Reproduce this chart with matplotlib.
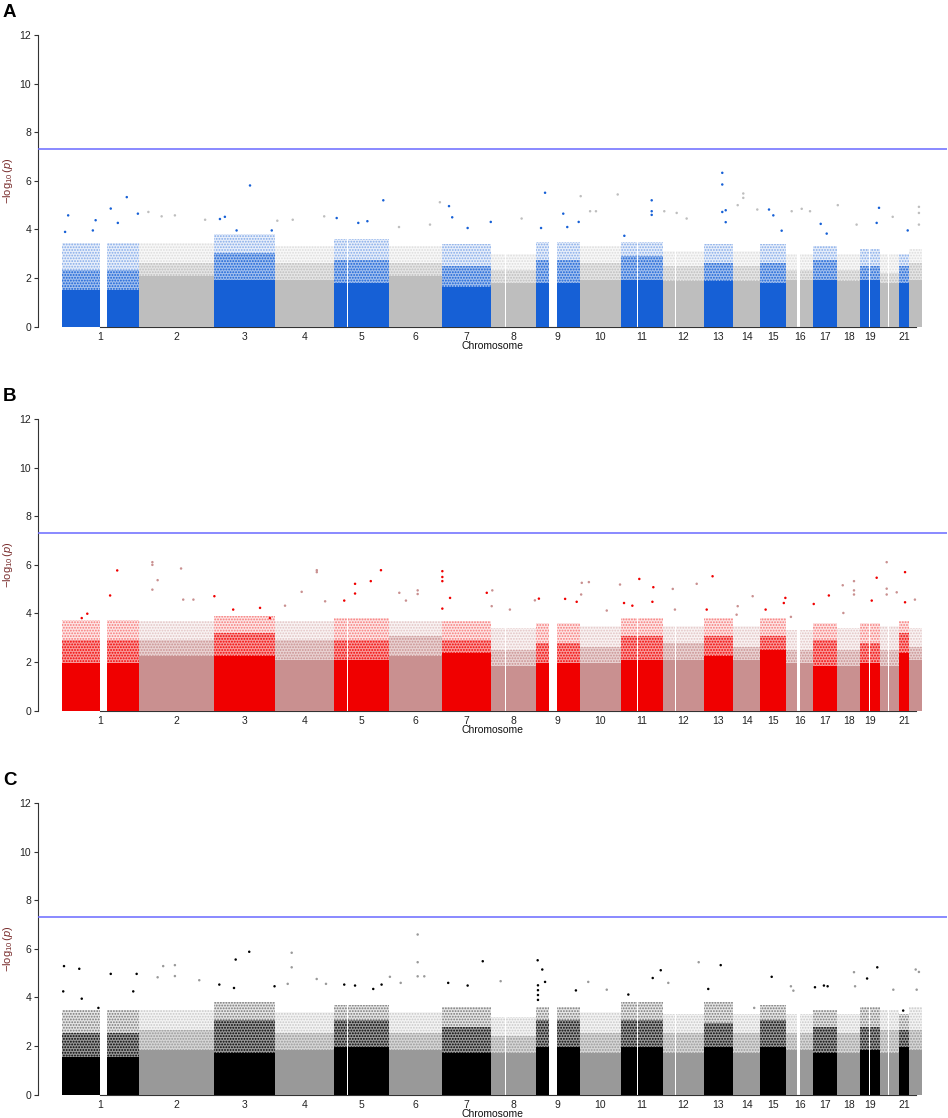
import matplotlib
matplotlib.use("Agg")
import matplotlib.pyplot as plt
from matplotlib.colors import to_rgba
import numpy as np

plt.rcParams['font.family'] = 'sans-serif'
plt.rcParams['font.sans-serif'] = ['Liberation Sans', 'DejaVu Sans']
plt.rcParams['mathtext.fontset'] = 'custom'
plt.rcParams['mathtext.rm'] = 'Liberation Sans'
plt.rcParams['mathtext.it'] = 'Liberation Sans:italic'
plt.rcParams['mathtext.sf'] = 'Liberation Sans'
plt.rcParams['hatch.linewidth'] = 0.9

# ---------------- data ----------------
chrom_names = [str(i) for i in range(1, 23)]
chrom_span_mb = [249, 243, 198, 191, 180, 171, 159, 146, 141, 135, 134, 133,
                 96, 88, 82, 90, 78, 74, 65, 61, 33, 40]
chrom_labels_shown = [str(i) for i in range(1, 20)] + ['21']

# regions without markers (chromosome, start Mb, end Mb)
gap_chrom = [1, 9, 16, 19, 2, 3, 4, 5, 6, 7, 8, 10, 11, 12, 20]
gap_start = [123, 42, 37, 27, 91, 90.5, 51.5, 44.5, 63.5, 60, 46, 40.5, 51.3, 41.5, 25.5]
gap_end = [145, 69, 45, 32, 93, 92.5, 52.5, 45.5, 64.5, 61.2, 47, 41.5, 53, 42.3, 26.5]

threshold = 7.3

# panel A: per-chromosome density envelopes (-log10 p)
A_solid = [1.52, 2.07, 1.93, 1.93, 1.79, 2.07, 1.65, 1.79, 1.80, 1.93, 1.93, 1.86,
           1.86, 1.86, 1.79, 1.93, 1.93, 1.86, 1.93, 1.79, 1.79, 1.93]
A_dense = [2.34, 2.62, 3.03, 2.62, 2.75, 2.62, 2.48, 2.34, 2.75, 2.62, 2.89, 2.48,
           2.62, 2.48, 2.62, 2.34, 2.75, 2.34, 2.48, 2.20, 2.48, 2.62]
A_sparse = [3.44, 3.44, 3.80, 3.30, 3.60, 3.30, 3.40, 3.00, 3.50, 3.30, 3.50, 3.10,
            3.40, 3.10, 3.40, 3.00, 3.30, 3.00, 3.20, 3.00, 3.00, 3.20]
A_pt_chr = [1, 1, 1, 1, 1, 1, 1, 1, 2, 2, 2, 2, 3, 3, 3, 3, 3, 4, 4, 4, 5, 5, 5, 5,
            6, 6, 6, 7, 7, 7, 7, 8, 9, 9, 9, 9, 9, 10, 10, 10, 10, 11, 11, 11, 11,
            12, 12, 12, 13, 13, 13, 13, 13, 14, 14, 14, 14, 15, 15, 15, 16, 16, 16,
            17, 17, 18, 18, 19, 19, 20, 21, 22, 22, 22]
A_pt_pos = [20, 10, 109, 100, 158, 210, 181, 246, 31, 117, 74, 215, 36, 20, 117.5, 74, 188,
            8, 58, 160, 9.5, 160.6, 109, 79.5, 31.5, 164, 132, 22.6, 33, 83, 158, 99,
            29, 16, 88, 101, 138, 3.5, 123.5, 34, 53, 98.7, 98.7, 98.7, 10,
            5.5, 45.7, 78, 60.5, 60.5, 71.6, 60.5, 71.6, 32.6, 32.6, 14.5, 78, 28, 42, 69,
            52, 79, 19.5, 23.6, 43, 1, 62, 60.6, 53, 40, 27.6, 31, 31, 31]
A_pt_val = [4.58, 3.90, 4.38, 3.96, 4.86, 5.33, 4.27, 4.65, 4.72, 4.58, 4.54, 4.40,
            4.52, 4.43, 5.81, 3.96, 3.96, 4.36, 4.40, 4.54, 4.47, 5.20, 4.34, 4.27,
            4.10, 5.12, 4.20, 4.96, 4.50, 4.06, 4.31, 4.45, 5.51, 4.06, 4.65, 4.10, 4.31,
            5.37, 5.44, 4.75, 4.75, 5.20, 4.75, 4.60, 3.74, 4.75, 4.68, 4.45,
            6.33, 5.85, 4.79, 4.72, 4.30, 5.48, 5.30, 5.00, 4.82, 4.82, 4.58, 3.95,
            4.85, 4.75, 4.75, 4.23, 3.83, 5.00, 4.20, 4.89, 4.27, 4.52, 3.96, 4.93, 4.68, 4.20]

# panel B
B_solid = [1.96, 2.23, 2.23, 2.09, 2.09, 2.23, 2.37, 1.82, 1.96, 1.96, 2.09, 2.09,
           2.23, 2.09, 2.50, 1.96, 1.82, 1.82, 1.96, 1.82, 2.37, 2.09]
B_dense = [2.92, 2.92, 3.20, 2.92, 2.92, 3.06, 2.92, 2.51, 2.78, 2.64, 3.06, 2.78,
           3.06, 2.64, 3.06, 2.51, 2.92, 2.51, 2.78, 2.51, 3.20, 2.64]
B_sparse = [3.74, 3.70, 3.90, 3.70, 3.80, 3.70, 3.70, 3.40, 3.60, 3.50, 3.80, 3.50,
            3.80, 3.50, 3.80, 3.30, 3.60, 3.40, 3.60, 3.50, 3.70, 3.40]
B_pt_chr = [1, 1, 1, 1, 2, 2, 2, 2, 2, 2, 2, 3, 3, 3, 3, 4, 4, 4, 4, 4, 5, 5, 5, 5, 5,
            6, 6, 6, 6, 7, 7, 7, 7, 7, 7, 8, 8, 8, 8, 9, 9, 9, 10, 10, 10, 10, 10,
            11, 11, 11, 11, 11, 12, 12, 12, 13, 13, 14, 14, 14, 15, 15, 15, 16, 17, 17,
            18, 18, 18, 18, 18, 19, 19, 20, 20, 20, 20, 21, 21, 22]
B_pt_pos = [179, 156, 64, 82, 44, 44, 137, 61, 44, 144, 177, 2, 63, 150, 182,
            87, 136, 136, 163, 33, 153, 120, 69, 69, 34, 92, 92, 32.5, 54,
            1, 1, 1, 26, 1, 145, 4, 2, 61, 142, 9, 94, 131.5, 7, 30, 5, 88, 131,
            58.5, 104, 101, 36, 9, 33, 110.6, 40, 29, 10, 11, 63, 14.5, 81, 76, 17, 17,
            1, 50, 17, 53.5, 53.5, 53.5, 19, 53, 37, 20.5, 20.5, 20.5, 53, 19, 19, 18]
B_pt_val = [5.77, 4.74, 3.81, 3.99, 6.11, 6.00, 5.85, 5.37, 4.98, 4.57, 4.57,
            4.71, 4.16, 4.23, 3.81, 4.89, 5.78, 5.70, 4.50, 4.32, 5.78, 5.33, 5.22, 4.82,
            4.53, 4.95, 4.80, 4.85, 4.53, 5.74, 5.50, 5.33, 4.64, 4.20, 4.85, 4.95, 4.30,
            4.16, 4.54, 4.61, 4.60, 4.48, 5.26, 5.29, 4.78, 4.12, 5.19, 5.42, 5.08, 4.48,
            4.32, 4.43, 5.01, 5.22, 4.16, 5.53, 4.16, 3.95, 4.71, 4.30, 4.64, 4.43, 4.16,
            3.86, 4.39, 4.74, 5.16, 5.33, 4.95, 4.78, 4.02, 5.47, 4.53, 6.11, 5.02, 4.78,
            4.87, 5.70, 4.46, 4.57]

# panel C
C_solid = [1.57, 1.84, 1.71, 1.84, 1.98, 1.84, 1.71, 1.71, 1.98, 1.71, 1.98, 1.71,
           1.98, 1.71, 1.98, 1.84, 1.71, 1.71, 1.84, 1.71, 1.98, 1.84]
C_dense = [2.53, 2.67, 3.08, 2.53, 3.08, 2.53, 2.80, 2.40, 3.08, 2.53, 3.08, 2.53,
           2.94, 2.53, 3.08, 2.53, 2.80, 2.53, 2.80, 2.67, 2.67, 2.67]
C_sparse = [3.50, 3.50, 3.80, 3.40, 3.70, 3.40, 3.60, 3.20, 3.60, 3.40, 3.80, 3.30,
            3.80, 3.30, 3.70, 3.30, 3.50, 3.30, 3.60, 3.50, 3.30, 3.60]
C_pt_chr = [1, 1, 1, 1, 1, 1, 1, 1, 2, 2, 2, 2, 2, 3, 3, 3, 3, 3, 4, 4, 4, 4, 4,
            5, 5, 5, 5, 6, 6, 6, 6, 6, 6, 7, 7, 7, 8, 9, 9, 9, 9, 9, 9, 9, 9,
            10, 10, 11, 11, 11, 12, 12, 13, 13, 14, 15, 16, 16, 17, 17, 17, 18, 18,
            19, 19, 20, 21, 22, 22, 22]
C_pt_pos = [6.5, 56, 4, 64, 118, 158, 242, 231, 79, 117, 117, 61, 196,
            71, 115, 18, 65.6, 197, 54.6, 54.6, 41.7, 135.7, 165.8,
            34, 69, 155, 128, 92, 92, 92, 2, 37, 113.5, 20, 83, 132, 31,
            5, 20, 29, 129, 6, 6, 6, 6, 28, 88, 102, 128, 23, 18.5, 117,
            55.4, 15, 68, 36.7, 17, 25, 5, 34, 46, 53.5, 57, 22, 55, 42, 13, 20.5, 31, 23.7]
C_pt_val = [5.29, 5.18, 4.25, 3.95, 3.57, 4.97, 4.97, 4.25, 5.29, 5.33, 4.88, 4.83, 4.71,
            5.56, 5.88, 4.53, 4.39, 4.46, 5.84, 5.24, 4.56, 4.76, 4.56,
            4.53, 4.49, 4.53, 4.35, 6.59, 5.45, 4.87, 4.85, 4.60, 4.87, 4.60, 4.49, 5.49,
            4.67, 5.53, 5.15, 4.64, 4.29, 4.50, 4.30, 4.10, 3.90, 4.64, 4.32, 4.80, 5.12,
            4.12, 4.60, 5.45, 5.33, 4.35, 3.57, 4.85, 4.46, 4.28, 4.42, 4.49, 4.46, 5.04,
            4.46, 4.78, 5.24, 4.32, 3.46, 5.15, 5.05, 4.32]

panel_letters = ['A', 'B', 'C']
panel_colors = [('#1660d6', '#bebebe'), ('#f00000', '#c99090'), ('#000000', '#999999')]
panel_levels = [(A_solid, A_dense, A_sparse), (B_solid, B_dense, B_sparse), (C_solid, C_dense, C_sparse)]
panel_points = [(A_pt_chr, A_pt_pos, A_pt_val), (B_pt_chr, B_pt_pos, B_pt_val), (C_pt_chr, C_pt_pos, C_pt_val)]

# ---------------- layout ----------------
W, H = 948, 1118
fig = plt.figure(figsize=(W / 100, H / 100), dpi=100)

starts = np.concatenate([[0], np.cumsum(chrom_span_mb)[:-1]])
mids = starts + np.array(chrom_span_mb) / 2.0
total = float(np.sum(chrom_span_mb))
px_per_mb = (921.7 - 62) / total
xlim = ((38 - 62) / px_per_mb, (947 - 62) / px_per_mb)


def segments(ci):
    span = chrom_span_mb[ci]
    cuts = sorted([(s, e) for c, s, e in zip(gap_chrom, gap_start, gap_end) if c == ci + 1])
    segs = []
    a = 0.0
    for s, e in cuts:
        segs.append((a, s))
        a = e
    segs.append((a, span))
    return segs


for k in range(3):
    top_px = 35 + 384 * k
    bot_px = 326.7 + 384 * k
    ax = fig.add_axes([38 / W, 1 - bot_px / H, (947 - 38) / W, (bot_px - top_px) / H])
    col_odd, col_even = panel_colors[k]
    solid, dense, sparse = panel_levels[k]
    for ci in range(22):
        c = col_odd if ci % 2 == 0 else col_even
        for a, b in segments(ci):
            xs = [starts[ci] + a, starts[ci] + b]
            ax.fill_between(xs, 0, solid[ci], color=c, lw=0, zorder=3)
            ax.fill_between(xs, solid[ci], dense[ci], facecolor=to_rgba(c, 0.4),
                            edgecolor=c, hatch='......', lw=0, zorder=3)
            ax.fill_between(xs, dense[ci], sparse[ci], facecolor=to_rgba(c, 0.1),
                            edgecolor=to_rgba(c, 0.45), hatch='......', lw=0, zorder=3)
    pc, pp, pv = panel_points[k]
    px = [starts[c - 1] + p for c, p in zip(pc, pp)]
    pcol = [col_odd if (c - 1) % 2 == 0 else col_even for c in pc]
    ax.scatter(px, pv, s=3.2, c=pcol, linewidths=0, zorder=4)

    ax.axhline(threshold, color='#6a6aff', lw=1.1, zorder=5)

    ax.set_xlim(*xlim)
    ax.set_ylim(0, 12)
    for s in ['top', 'right']:
        ax.spines[s].set_visible(False)
    ax.spines['left'].set_bounds(0, 12)
    ax.spines['bottom'].set_bounds(mids[0], mids[-1])
    for s in ['left', 'bottom']:
        ax.spines[s].set_color('#333333')
        ax.spines[s].set_linewidth(0.8)
    ax.spines['bottom'].set_zorder(2)

    ax.set_yticks(range(0, 13, 2))
    ax.tick_params(axis='y', length=3, width=0.8, color='#333333', labelsize=7.5,
                   labelcolor='#222222', pad=2)
    ax.set_xticks(mids)
    ax.set_xticklabels([n if n in chrom_labels_shown else '' for n in chrom_names])
    ax.tick_params(axis='x', length=0, labelsize=7.5, labelcolor='#222222', pad=4)
    ax.set_xticks([mids[19], mids[21]], minor=True)
    ax.tick_params(axis='x', which='minor', length=3, width=0.8, color='#333333')

    ax.set_ylabel(r'$-\log_{10}(p)$', fontsize=8, color='#7a2e2e')
    ax.yaxis.set_label_coords(-(38 - 15) / 909, 0.5)
    ax.set_xlabel('Chromosome', fontsize=7.5, color='#111111')
    ax.xaxis.set_label_coords(0.5, -0.05)

    fig.text(3 / W, 1 - (4 + 384 * k) / H, panel_letters[k], fontsize=13.5,
             fontweight='bold', ha='left', va='top')

fig.savefig('out.png', dpi=100)
